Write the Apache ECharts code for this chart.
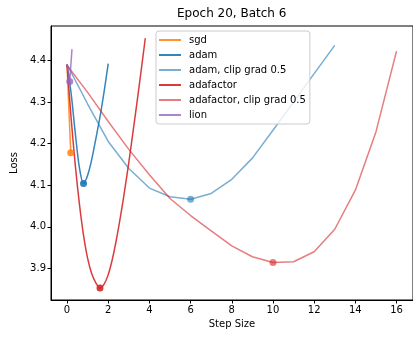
<!DOCTYPE html>
<html>
<head>
<meta charset="utf-8">
<script src="https://cdn.jsdelivr.net/npm/echarts@6/dist/echarts.min.js"></script>
<style>
  html, body { margin: 0; padding: 0; background: #fff; }
  #main { width: 413px; height: 337px; }
</style>
</head>
<body>
<div id="main"></div>
<script>
// step size / loss pairs
var sgdX = [0, 0.18];
var sgdY = [4.388, 4.178];

var adamX = [0, 0.2, 0.4, 0.6, 0.8, 1.0, 1.2, 1.4, 1.6, 1.8, 2.0];
var adamY = [4.39, 4.32, 4.225, 4.142, 4.104, 4.124, 4.162, 4.212, 4.264, 4.325, 4.392];

var adamClipX = [0, 1, 2, 3, 4, 5, 6, 7, 8, 9, 10, 11, 12, 13];
var adamClipY = [4.39, 4.295, 4.205, 4.14, 4.093, 4.072, 4.066, 4.08, 4.114, 4.165, 4.232, 4.30, 4.368, 4.436];

var adafactorX = [0, 0.2, 0.4, 0.6, 0.8, 1.0, 1.2, 1.4, 1.6, 1.8, 2.0, 2.2, 2.4, 2.6, 2.8, 3.0, 3.2, 3.4, 3.6, 3.8];
var adafactorY = [4.39, 4.26, 4.148, 4.055, 3.98, 3.924, 3.887, 3.865, 3.853, 3.862, 3.885, 3.922, 3.97, 4.026, 4.088, 4.155, 4.227, 4.30, 4.376, 4.453];

var adafactorClipX = [0, 1, 2, 3, 4, 5, 6, 7, 8, 9, 10, 11, 12, 13, 14, 15, 16];
var adafactorClipY = [4.388, 4.323, 4.253, 4.186, 4.125, 4.068, 4.027, 3.99, 3.954, 3.928, 3.914, 3.916, 3.94, 3.994, 4.088, 4.228, 4.422];

var lionX = [0, 0.13, 0.24];
var lionY = [4.39, 4.349, 4.427];

var names = ['sgd', 'adam', 'adam, clip grad 0.5', 'adafactor', 'adafactor, clip grad 0.5', 'lion'];
var xTicks = [0, 2, 4, 6, 8, 10, 12, 14, 16];
var yTicks = [3.9, 4.0, 4.1, 4.2, 4.3, 4.4];

var colors = [
    'rgba(255,127,14,0.85)',
    'rgba(31,119,180,0.9)',
    'rgba(31,119,180,0.6)',
    'rgba(214,39,40,0.9)',
    'rgba(214,39,40,0.6)',
    'rgba(148,103,189,0.8)'
];

var font = 'DejaVu Sans';

function pairs(xs, ys) {
    return xs.map(function (x, i) { return [x, ys[i]]; });
}

function makeSeries(idx, xs, ys, smooth) {
    return {
        name: names[idx],
        type: 'line',
        data: pairs(xs, ys),
        smooth: smooth || false,
        showSymbol: false,
        symbol: 'none',
        lineStyle: { width: 1.5, color: colors[idx] },
        itemStyle: { color: colors[idx] },
        emphasis: { disabled: true },
        animation: false,
        markPoint: {
            symbol: 'circle',
            symbolSize: 7,
            label: { show: false },
            itemStyle: { color: colors[idx] },
            data: [{ type: 'min' }]
        }
    };
}

var myChart = echarts.init(document.getElementById('main'));

myChart.setOption({
    backgroundColor: '#fff',
    animation: false,
    title: {
        text: 'Epoch 20, Batch 6',
        left: 177,
        top: 8,
        padding: 0,
        textStyle: { fontFamily: font, fontSize: 12, fontWeight: 'normal', color: '#000' }
    },
    legend: {
        orient: 'vertical',
        left: 156,
        top: 31,
        padding: [3, 4, 3, 3],
        itemGap: 3,
        itemWidth: 22,
        itemHeight: 2,
        icon: 'rect',
        borderColor: '#ccc',
        borderWidth: 1,
        borderRadius: 3,
        backgroundColor: 'rgba(255,255,255,0.8)',
        data: names,
        textStyle: { fontFamily: font, fontSize: 10, lineHeight: 12, color: '#000', padding: [0, 0, 0, 3] }
    },
    grid: {
        left: 51,
        top: 26,
        bottom: 37,
        right: -6,
        show: true,
        borderColor: '#000',
        borderWidth: 1,
        backgroundColor: 'transparent'
    },
    xAxis: {
        type: 'value',
        min: -0.779,
        max: 16.8,
        name: 'Step Size',
        nameLocation: 'middle',
        nameGap: 19,
        nameTextStyle: { fontFamily: font, fontSize: 10, color: '#000' },
        axisLine: { onZero: false, lineStyle: { color: '#000', width: 1 } },
        axisTick: { length: 3.5, lineStyle: { color: '#000' }, customValues: xTicks },
        axisLabel: { fontFamily: font, fontSize: 10, color: '#000', margin: 5, customValues: xTicks },
        splitLine: { show: false }
    },
    yAxis: {
        type: 'value',
        min: 3.824,
        max: 4.4825,
        name: 'Loss',
        nameLocation: 'middle',
        nameGap: 24,
        nameRotate: 90,
        nameTextStyle: { fontFamily: font, fontSize: 10, color: '#000' },
        axisLine: { show: true, onZero: false, lineStyle: { color: '#000', width: 1 } },
        axisTick: { show: true, length: 3.5, lineStyle: { color: '#000' }, customValues: yTicks },
        axisLabel: {
            fontFamily: font, fontSize: 10, color: '#000', margin: 5,
            customValues: yTicks,
            formatter: function (v) { return v.toFixed(1); }
        },
        splitLine: { show: false }
    },
    series: [
        makeSeries(0, sgdX, sgdY),
        makeSeries(1, adamX, adamY, 0.3),
        makeSeries(2, adamClipX, adamClipY),
        makeSeries(3, adafactorX, adafactorY, 0.3),
        makeSeries(4, adafactorClipX, adafactorClipY),
        makeSeries(5, lionX, lionY)
    ]
});
</script>
</body>
</html>
